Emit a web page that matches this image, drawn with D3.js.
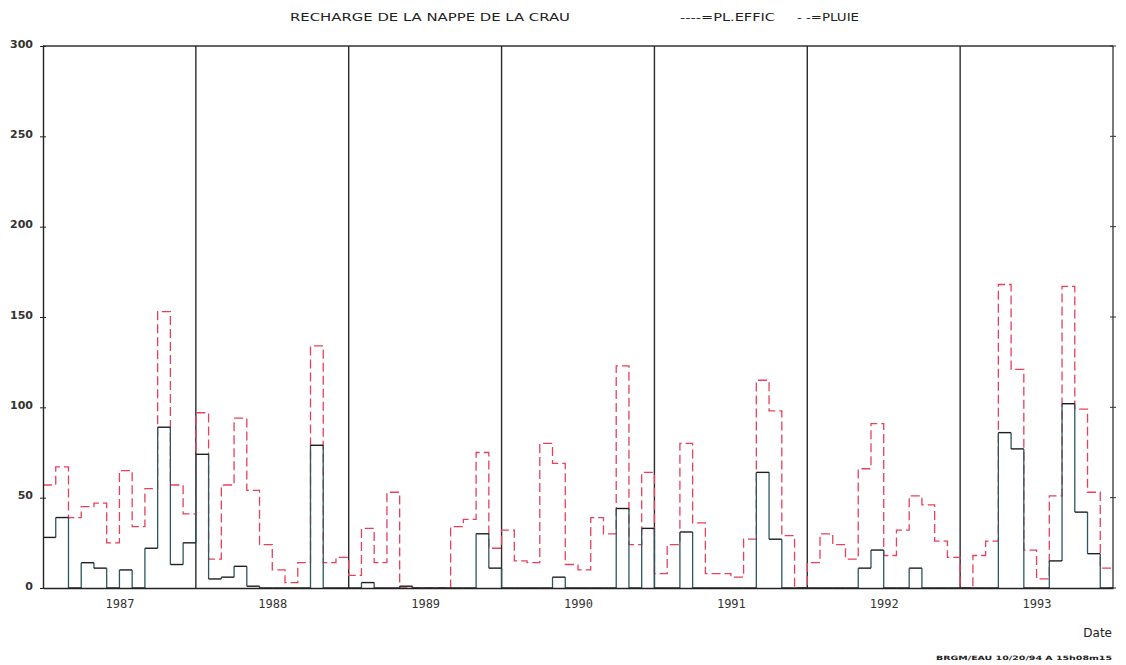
<!DOCTYPE html>
<html>
<head>
<meta charset="utf-8">
<script src="https://cdn.jsdelivr.net/npm/d3@7"></script>
<style>
  html, body { margin: 0; padding: 0; background: #fff; }
  svg { display: block; }
  .lbl { font-family: "DejaVu Sans", sans-serif; fill: #222; }
</style>
</head>
<body>
<svg id="chart" width="1126" height="665"></svg>
<script>
// ---- DATA ----
const years = [1987, 1988, 1989, 1990, 1991, 1992, 1993];
const yTicks = [0, 50, 100, 150, 200, 250, 300];
// monthly rainfall (PLUIE), Jan 1987 .. Dec 1993
const pluie = [
  57, 67, 39, 45, 47, 25, 65, 34, 55, 153, 57, 41,
  97, 16, 57, 94, 54, 24, 10, 3, 14, 134, 14, 17,
  7, 33, 14, 53, 0, 0, 0, 0, 34, 38, 75, 22,
  32, 15, 14, 80, 69, 13, 10, 39, 30, 123, 24, 64,
  8, 24, 80, 36, 8, 8, 6, 27, 115, 98, 29, 0,
  14, 30, 24, 16, 66, 91, 18, 32, 51, 46, 26, 17,
  0, 18, 26, 168, 121, 21, 5, 51, 167, 99, 53, 11
];
// monthly effective rainfall (PL.EFFIC)
const plEffic = [
  28, 39, 0, 14, 11, 0, 10, 0, 22, 89, 13, 25,
  74, 5, 6, 12, 1, 0, 0, 0, 0, 79, 0, 0,
  0, 3, 0, 0, 1, 0, 0, 0, 0, 0, 30, 11,
  0, 0, 0, 0, 6, 0, 0, 0, 0, 44, 0, 33,
  0, 0, 31, 0, 0, 0, 0, 0, 64, 27, 0, 0,
  0, 0, 0, 0, 11, 21, 0, 0, 11, 0, 0, 0,
  0, 0, 0, 86, 77, 0, 0, 15, 102, 42, 19, 0
];
const titleText = "RECHARGE DE LA NAPPE DE LA CRAU";
const legendEffic = "----=PL.EFFIC";
const legendPluie = "- -=PLUIE";
const xTitle = "Date";
const footer = "BRGM/EAU   10/20/94  A 15h08m15";

// ---- CHART ----
const svg = d3.select("#chart");
const nMonths = years.length * 12;
const x = d3.scaleLinear().domain([0, nMonths]).range([43, 1113]);
const y = d3.scaleLinear().domain([0, 300]).range([588, 46]);

const stepPts = arr => arr.map((v, i) => [i, v]).concat([[arr.length, arr[arr.length - 1]]]);
const line = d3.line().x(d => x(d[0])).y(d => y(d[1])).curve(d3.curveStepAfter);

// frame: top line, right axis
svg.append("line").attr("x1", x(0)).attr("x2", x(nMonths)).attr("y1", y(300)).attr("y2", y(300))
  .attr("stroke", "#333").attr("stroke-width", 1.3);
svg.append("line").attr("x1", x(nMonths)).attr("x2", x(nMonths)).attr("y1", y(300)).attr("y2", y(0))
  .attr("stroke", "#333").attr("stroke-width", 1.3);
svg.selectAll(".rtick").data(yTicks).join("line")
  .attr("x1", x(nMonths) - 3).attr("x2", x(nMonths) + 3)
  .attr("y1", d => y(d)).attr("y2", d => y(d)).attr("stroke", "#333");

// year separators
svg.selectAll(".ysep").data(years.slice(1)).join("line")
  .attr("x1", (d, i) => x((i + 1) * 12)).attr("x2", (d, i) => x((i + 1) * 12))
  .attr("y1", y(300)).attr("y2", y(0))
  .attr("stroke", "#2a2a2a").attr("stroke-width", 1.4);

// red dashed: PLUIE
svg.append("path").attr("d", line(stepPts(pluie)))
  .attr("fill", "none").attr("stroke", "#e6405a").attr("stroke-width", 1.3)
  .attr("stroke-dasharray", "9,4");

// black step: PL.EFFIC (horizontal parts black, vertical parts darker teal like the plot pen)
const eff = stepPts(plEffic);
const vSegs = [];
for (let i = 1; i < eff.length - 1; i++) {
  if (eff[i][1] !== eff[i - 1][1]) vSegs.push({ i: i, a: eff[i - 1][1], b: eff[i][1] });
}
svg.selectAll(".vseg").data(vSegs).join("line")
  .attr("x1", d => x(d.i)).attr("x2", d => x(d.i))
  .attr("y1", d => y(d.a)).attr("y2", d => y(d.b))
  .attr("stroke", "#2c5760").attr("stroke-width", 1.3);
svg.selectAll(".hseg").data(eff.slice(0, -1)).join("line")
  .attr("x1", d => x(d[0])).attr("x2", d => x(d[0] + 1))
  .attr("y1", d => y(d[1])).attr("y2", d => y(d[1]))
  .attr("stroke", "#1e1e1e").attr("stroke-width", 1.4);

// left axis
const yAxis = d3.axisLeft(y).tickValues(yTicks).tickSizeInner(3).tickSizeOuter(0).tickPadding(7);
const gy = svg.append("g").attr("transform", `translate(${x(0)},0)`).call(yAxis);
gy.select(".domain").attr("stroke", "#222").attr("stroke-width", 1.4);
gy.selectAll(".tick line").attr("stroke", "#222").attr("x2", -3).clone().attr("x2", 3);
gy.selectAll(".tick text").attr("font-family", "DejaVu Sans, sans-serif")
  .attr("font-weight", "bold").attr("font-size", 11).attr("fill", "#333").attr("dy", "0.1em");

// bottom axis
const xAxis = d3.axisBottom(x).tickValues(years.map((d, i) => i * 12 + 6))
  .tickFormat((d, i) => years[i]).tickSize(0).tickPadding(11);
const gx = svg.append("g").attr("transform", `translate(0,${y(0)})`).call(xAxis);
gx.select(".domain").attr("stroke", "#222").attr("stroke-width", 1.4);
gx.selectAll(".tick text").attr("font-family", "DejaVu Sans Mono, monospace")
  .attr("font-size", 12).attr("fill", "#333");

// title & legend
svg.append("text").attr("class", "lbl").attr("x", 290).attr("y", 21)
  .attr("font-size", 10).attr("textLength", 280).attr("lengthAdjust", "spacingAndGlyphs")
  .text(titleText);
svg.append("text").attr("class", "lbl").attr("x", 680).attr("y", 21)
  .attr("font-size", 10).attr("textLength", 95).attr("lengthAdjust", "spacingAndGlyphs")
  .text(legendEffic);
svg.append("text").attr("class", "lbl").attr("x", 797).attr("y", 21)
  .attr("font-size", 10).attr("textLength", 62).attr("lengthAdjust", "spacingAndGlyphs")
  .text(legendPluie);

// axis title & footer
svg.append("text").attr("class", "lbl").attr("x", 1112).attr("y", 637).attr("text-anchor", "end")
  .attr("font-size", 12).attr("font-family", "DejaVu Sans Mono, monospace").text(xTitle);
svg.append("text").attr("class", "lbl").attr("x", 936).attr("y", 660)
  .attr("font-size", 6).attr("font-weight", "bold").attr("textLength", 176).attr("lengthAdjust", "spacingAndGlyphs")
  .text(footer);
</script>
</body>
</html>
